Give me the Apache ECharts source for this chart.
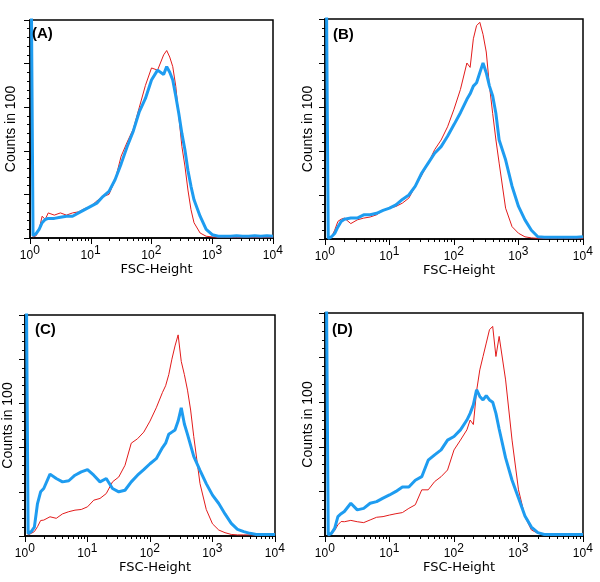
<!DOCTYPE html>
<html>
<head>
<meta charset="utf-8">
<script src="https://cdn.jsdelivr.net/npm/echarts@6/dist/echarts.min.js"></script>
<style>
html,body{margin:0;padding:0;background:#fff;}
#c{width:600px;height:582px;}
</style>
</head>
<body>
<div id="c"></div>
<script>
// x positions: log10(FSC-Height)
var X = [0.02,0.05,0.1,0.15,0.2,0.25,0.3,0.4,0.5,0.6,0.7,0.8,0.9,1.0,1.1,1.2,1.3,1.4,1.5,1.6,1.7,1.8,1.9,2.0,2.1,2.2,2.25,2.3,2.35,2.4,2.45,2.5,2.55,2.6,2.65,2.7,2.8,2.9,3.0,3.1,3.2,3.3,3.4,3.5,3.6,3.7,3.8,3.9,4.0];
var X_TICKS = [0,1,2,3,4];
var X_MINOR = [0.301,0.477,0.602,0.699,0.778,0.845,0.903,0.954,1.301,1.477,1.602,1.699,1.778,1.845,1.903,1.954,2.301,2.477,2.602,2.699,2.778,2.845,2.903,2.954,3.301,3.477,3.602,3.699,3.778,3.845,3.903,3.954];
var PANELS = ['(A)','(B)','(C)','(D)'];

var A_RED  = [120,0.5,1,4,10,8.5,11.5,10.5,11.5,10.5,11.5,12,13.5,14.5,17,19,20,26.5,37.5,44,50,60,70,78,77,84,86,83,78.6,69.5,55.7,42,33,22,13,7,2.3,0.8,0.5,0.3,0.3,0.3,0.3,0.3,0.3,0.3,0.3,0.3,0.3];
var A_BLUE = [120,1,2,4,7,8.5,9,9,9.5,10,10,11.5,13,14.5,16,19,21.4,26.7,34,42,49,58,64,72.5,77,75,78.6,76,72.5,65,57,48,40.5,31,23.7,17.5,10,4,1.5,0.8,0.8,0.8,1,0.8,0.8,1,0.8,1,0.8];
var B_RED  = [120,0.3,0.8,4,8,9,9.5,7,8.7,9.5,10,11,13,14,14.8,16.3,18.6,24,29,34.5,40.6,45,51,59,68,80,78,91,97,98.5,93,85,69.5,57,45,34.5,14,5.6,2.6,1,0.5,0.3,0.3,0.3,0.3,0.3,0.3,0.3,0.3];
var B_BLUE = [120,0.3,1,2.5,5.5,8,9,9.5,9.5,11,11,11.7,13,14,15.5,18,20,24,30,34.5,39,42,46.7,52,57.4,63.5,66,69.5,71,75.6,80,75.6,69.5,65,57,45,36,24,14.8,8.7,4,1,0.8,0.8,0.8,0.8,0.8,0.8,1];
var C_RED  = [120,0.5,1.2,2,4.2,7,7.2,8.7,8,10,11,11.7,12,13.2,16.2,17,19.2,24.5,26.7,32,42,44,47,52,58,65,68,73,80,86,91,79,73,66,57,45,23.7,12,5.5,2.7,1.5,0.7,0.5,0.5,0.5,0.5,0.5,0.5,0.5];
var C_BLUE = [120,1,2,4,14.7,20,21.5,28,26,24.5,25,27.5,29,30,27.5,24.5,26,21.5,20,20.7,24.5,27.5,30,32.7,35,40,42,46,47,48,52,58,50.7,46,41,36,29.7,23.7,18.5,14.7,10,5.7,3,2,1.2,0.7,0.7,0.7,0.7];
var D_RED  = [120,0.3,0.9,2.5,5,6.5,6.4,7,6.4,6,7.2,8.4,8.7,9.4,10,10.5,12.4,14,20.7,20.7,24.4,26.6,29.6,38.6,43,47.6,52,50,65,74.5,80.5,86.5,92.5,94,80.5,89.5,70,43,20.7,8.7,2.7,1.2,0.7,0.5,0.5,0.5,0.5,0.5,0.5];
var D_BLUE = [120,0.5,1.2,3.4,8.7,10,11,14.7,11.7,12.4,14.7,15.4,17,18.4,20,22,22,25,26.6,34,36.4,38.6,43,44.6,47.6,52,55,58.8,65.6,62.6,61,63,61,60,55,48,35,25,17,9,4,1.5,0.7,0.7,0.7,0.7,0.7,0.7,0.7];

var REDS = [A_RED, B_RED, C_RED, D_RED];
var BLUES = [A_BLUE, B_BLUE, C_BLUE, D_BLUE];

var RED = '#e21b1b', BLUE = '#1e9cf0';
var GRIDS = [
  {left:30, top:20, width:243, height:218},
  {left:325, top:19, width:258, height:220},
  {left:25, top:315, width:250, height:221},
  {left:325, top:313, width:258, height:223}
];
var TITLE_POS = [[32,26],[333,27],[35,322],[332,322]];
var YGAP = [12,10,10,10];

function pairs(v){ return X.map(function(x,i){ return [x, v[i]]; }); }

var option = {animation:false, backgroundColor:'#fff', grid:[], xAxis:[], yAxis:[], series:[], title:[]};
for (var i=0;i<4;i++){
  var g = GRIDS[i];
  option.grid.push({left:g.left, top:g.top, width:g.width, height:g.height, show:true, borderColor:'#000', borderWidth:1.5, containLabel:false});
  option.xAxis.push({
    type:'value', gridIndex:i, min:0, max:4, interval:1, position:'bottom',
    axisLine:{show:true, onZero:false, lineStyle:{color:'#000', width:1.5}},
    axisTick:{show:true, length:6, lineStyle:{color:'#000', width:1}},
    splitLine:{show:false},
    axisLabel:{margin:7, color:'#000', formatter:function(v){ return '{b|10}{s|'+v+'}{h| }'; },
      rich:{b:{fontSize:12, fontFamily:'Liberation Sans', color:'#000', verticalAlign:'bottom', lineHeight:12},
            s:{fontSize:12, fontFamily:'Liberation Sans', color:'#000', verticalAlign:'top', lineHeight:12},
            h:{fontSize:1, lineHeight:17}}},
    name:'FSC-Height', nameLocation:'middle', nameGap:25,
    nameTextStyle:{fontSize:13, fontFamily:'DejaVu Sans', color:'#000', padding:[0,0,0,10]}
  });
  option.xAxis.push({
    type:'value', gridIndex:i, min:0, max:4, position:'bottom', offset:0,
    axisLine:{show:false}, axisLabel:{show:false}, splitLine:{show:false},
    axisTick:{show:true, length:3, customValues:X_MINOR, lineStyle:{color:'#000', width:1}}
  });
  option.yAxis.push({
    type:'value', gridIndex:i, min:0, max:100, interval:20,
    axisLine:{show:true, lineStyle:{color:'#000', width:1.5}},
    axisTick:{show:true, length:6, lineStyle:{color:'#000', width:1}},
    minorTick:{show:true, splitNumber:5, length:3, lineStyle:{color:'#000', width:1}},
    axisLabel:{show:false}, splitLine:{show:false}, minorSplitLine:{show:false},
    name:'Counts in 100', nameLocation:'middle', nameGap:YGAP[i],
    nameTextStyle:{fontSize:14, fontFamily:'Liberation Sans', color:'#000'}
  });
  option.series.push({type:'line', xAxisIndex:2*i, yAxisIndex:i, data:pairs(REDS[i]), showSymbol:false, symbol:'none', clip:true,
    lineStyle:{color:RED, width:1}, itemStyle:{color:RED}, z:2});
  option.series.push({type:'line', xAxisIndex:2*i, yAxisIndex:i, data:pairs(BLUES[i]), showSymbol:false, symbol:'none', clip:true,
    lineStyle:{color:BLUE, width:3}, itemStyle:{color:BLUE}, z:3});
  option.title.push({text:PANELS[i], left:TITLE_POS[i][0], top:TITLE_POS[i][1], padding:0,
    textStyle:{fontSize:15, fontWeight:'bold', fontFamily:'Liberation Sans', color:'#000'}});
}
var chart = echarts.init(document.getElementById('c'), null, {renderer:'canvas'});
chart.setOption(option);
</script>
</body>
</html>
